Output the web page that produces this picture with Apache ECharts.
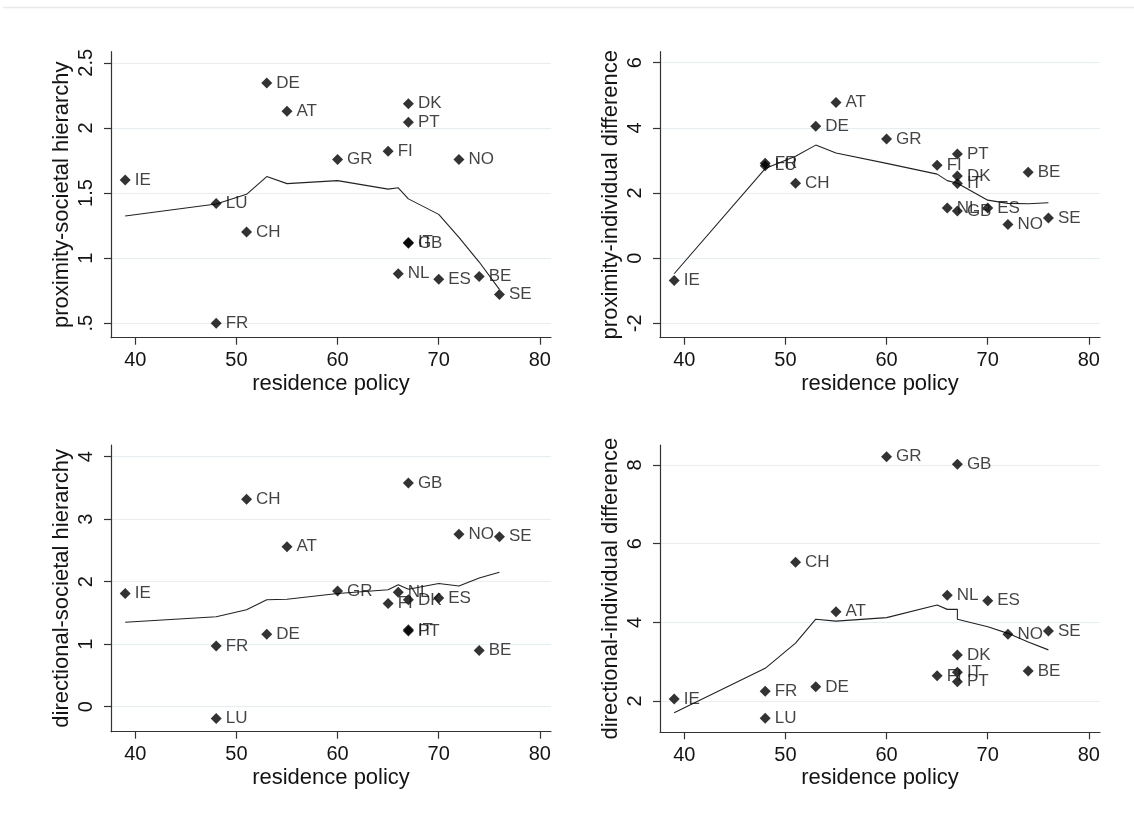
<!DOCTYPE html>
<html>
<head>
<meta charset="utf-8">
<script src="https://cdn.jsdelivr.net/npm/echarts@6/dist/echarts.min.js"></script>
<style>
  html, body { margin: 0; padding: 0; background: #ffffff; }
  #chart { width: 1134px; height: 827px; }
</style>
</head>
<body>
<div id="chart"></div>
<script>
// ---------- data ----------
const countries = ['IE','LU','FR','CH','DE','AT','GR','FI','NL','DK','PT','IT','GB','ES','NO','BE','SE'];
const residencePolicy = [39,48,48,51,53,55,60,65,66,67,67,67,67,70,72,74,76];

const proxSocietal   = [1.60,1.42,0.50,1.20,2.344,2.128,1.757,1.82,0.88,2.185,2.044,1.12,1.115,0.838,1.757,0.859,0.721];
const proxIndividual = [-0.687,2.84,2.91,2.30,4.05,4.78,3.66,2.85,1.54,2.52,3.20,2.29,1.45,1.54,1.03,2.64,1.23];
const dirSocietal    = [1.81,-0.187,0.97,3.32,1.16,2.56,1.85,1.65,1.83,1.71,1.21,1.23,3.58,1.74,2.76,0.90,2.72];
const dirIndividual  = [2.05,1.56,2.25,5.53,2.36,4.27,8.21,2.64,4.69,3.17,2.49,2.73,8.02,4.55,3.70,2.76,3.78];

// lowess smooth, evaluated at the observed residence-policy values
const lowessX          = [39,48,51,53,55,60,65,66,67,67,70,72,74,76];
const lowessProxSoc    = [1.323,1.415,1.49,1.626,1.572,1.595,1.53,1.54,1.455,1.45,1.336,1.16,0.97,0.76];
const lowessProxInd    = [-0.48,2.75,3.13,3.47,3.23,2.91,2.58,2.38,2.30,2.28,1.78,1.68,1.67,1.70];
const lowessDirSoc     = [1.35,1.44,1.55,1.71,1.72,1.81,1.87,1.95,1.88,1.88,1.97,1.93,2.06,2.15];
const lowessDirInd     = [1.70,2.83,3.47,4.08,4.03,4.12,4.44,4.33,4.33,4.08,3.89,3.72,3.50,3.30];

const xTicks = [40,50,60,70,80];
const yTicksProxSoc = [0.5,1,1.5,2,2.5];
const yTicksProxInd = [-2,0,2,4,6];
const yTicksDirSoc  = [0,1,2,3,4];
const yTicksDirInd  = [2,4,6,8];

const xTitle = 'residence policy';
const yTitles = ['proximity-societal hierarchy','proximity-individual difference','directional-societal hierarchy','directional-individual difference'];

// ---------- layout / styles ----------
const FONT = '"Liberation Sans", Arial, sans-serif';
const TXT = '#141414';
const AXC = '#333333';
const GRIDC = '#e6eef0';

const panels = [
  { y: proxSocietal,   lw: lowessProxSoc, ticks: yTicksProxSoc, range: [0.389, 2.585], grid: {left:111, top:51.7, width:440, height:286} },
  { y: proxIndividual, lw: lowessProxInd, ticks: yTicksProxInd, range: [-2.443, 6.338], grid: {left:660, top:51.7, width:440, height:286} },
  { y: dirSocietal,    lw: lowessDirSoc,  ticks: yTicksDirSoc,  range: [-0.40, 4.187], grid: {left:111, top:445, width:440, height:286.7} },
  { y: dirIndividual,  lw: lowessDirInd,  ticks: yTicksDirInd,  range: [1.204, 8.51], grid: {left:660, top:445, width:440, height:287.3} }
];

function fmt(v) {
  let s = String(+v.toFixed(4));
  return s.replace(/^0\./, '.').replace(/^-0\./, '-.');
}

const option = {
  animation: false,
  backgroundColor: '#ffffff',
  textStyle: { fontFamily: FONT },
  graphic: [{
    type: 'line', silent: true,
    shape: { x1: 3, y1: 7.5, x2: 1134, y2: 7.5 },
    style: { stroke: '#e4ece9', lineWidth: 1.5 }
  }],
  grid: [], xAxis: [], yAxis: [], series: []
};

panels.forEach((p, i) => {
  option.grid.push(Object.assign({ containLabel: false }, p.grid));
  option.xAxis.push({
    type: 'value', gridIndex: i, min: 37.6, max: 81.1,
    name: xTitle, nameLocation: 'middle', nameGap: 35,
    nameTextStyle: { fontSize: 22, color: TXT, fontFamily: FONT },
    axisLine: { show: true, onZero: false, lineStyle: { color: AXC, width: 1.2 } },
    axisTick: { show: true, length: 7, customValues: xTicks, lineStyle: { color: AXC, width: 1.2 } },
    axisLabel: { customValues: xTicks, fontSize: 20, color: TXT, margin: 13, fontFamily: FONT,
                 showMinLabel: true, showMaxLabel: true },
    splitLine: { show: false }
  });
  option.yAxis.push({
    type: 'value', gridIndex: i, min: p.range[0], max: p.range[1],
    name: yTitles[i], nameLocation: 'middle', nameGap: 38, nameRotate: 90,
    nameTextStyle: { fontSize: 22, color: TXT, fontFamily: FONT },
    axisLine: { show: true, onZero: false, lineStyle: { color: AXC, width: 1.2 } },
    axisTick: { show: true, length: 7, customValues: p.ticks, lineStyle: { color: AXC, width: 1.2 } },
    axisLabel: { customValues: p.ticks, rotate: 90, fontSize: 20, color: TXT, margin: 15, fontFamily: FONT,
                 formatter: fmt },
    splitLine: { show: true, lineStyle: { color: GRIDC, width: 1.2 } }
  });
  option.series.push({
    type: 'line', xAxisIndex: i, yAxisIndex: i,
    data: lowessX.map((x, k) => [x, p.lw[k]]),
    showSymbol: false, symbol: 'none', silent: true, z: 2,
    lineStyle: { color: '#222222', width: 1.1 }
  });
  option.series.push({
    type: 'scatter', xAxisIndex: i, yAxisIndex: i, z: 3,
    symbol: 'diamond', symbolSize: 11,
    itemStyle: { color: '#000000' },
    label: { show: true, position: 'right', distance: 4, formatter: '{b}',
             fontSize: 17, color: TXT, fontFamily: FONT },
    data: countries.map((c, k) => ({ name: c, value: [residencePolicy[k], p.y[k]] }))
  });
});

const chart = echarts.init(document.getElementById('chart'), null, { renderer: 'canvas' });
chart.setOption(option);
</script>
</body>
</html>
